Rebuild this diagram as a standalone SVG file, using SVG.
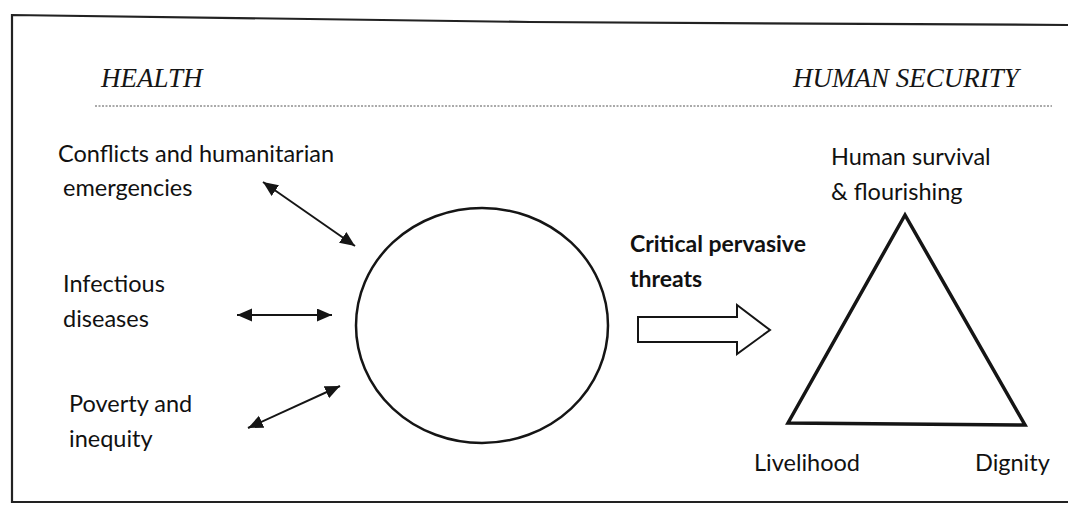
<svg xmlns="http://www.w3.org/2000/svg" width="1068" height="505" viewBox="0 0 1068 505">
  <style>
    .lbl { font-family: Lato, "Liberation Sans", sans-serif; font-size: 23.5px; fill: #111; }
    .bold { font-weight: bold; font-size: 23px; }
    .head { font-family: "Liberation Serif", serif; font-style: italic; font-size: 27px; fill: #151515; }
    .ln { stroke: #151515; stroke-width: 2; fill: none; }
  </style>
  <defs>
    <marker id="ah" markerUnits="userSpaceOnUse" markerWidth="16" markerHeight="14" refX="15" refY="6.5" orient="auto-start-reverse">
      <path d="M0,0 L15,6.5 L0,13 z" fill="#151515"/>
    </marker>
  </defs>

  <g id="frame">
    <polyline points="1068,25 530,22 12,15 12,502 1068,502" fill="none" stroke="#222" stroke-width="2.2"/>
    <line x1="95" y1="106" x2="1052" y2="106" stroke="#555" stroke-width="1" stroke-dasharray="2 1.5"/>
  </g>

  <g id="title-health"><text class="head" x="101" y="87">HEALTH</text></g>
  <g id="title-security"><text class="head" x="793" y="87">HUMAN SECURITY</text></g>

  <g id="node-conflicts">
    <text class="lbl" x="58" y="162">Conflicts and humanitarian</text>
    <text class="lbl" x="63" y="196">emergencies</text>
  </g>
  <g id="node-infectious">
    <text class="lbl" x="63" y="292">Infectious</text>
    <text class="lbl" x="63" y="327">diseases</text>
  </g>
  <g id="node-poverty">
    <text class="lbl" x="69" y="412">Poverty and</text>
    <text class="lbl" x="69" y="447">inequity</text>
  </g>

  <g id="node-health-circle">
    <ellipse cx="482" cy="325.5" rx="126" ry="117.5" fill="none" stroke="#151515" stroke-width="2.5"/>
  </g>

  <g id="node-threats">
    <text class="lbl bold" x="630" y="252">Critical pervasive</text>
    <text class="lbl bold" x="630" y="287">threats</text>
  </g>

  <g id="node-triangle">
    <polygon points="905,215 788,423 1025,425" fill="none" stroke="#151515" stroke-width="3.5" stroke-linejoin="miter"/>
    <text class="lbl" x="831" y="165">Human survival</text>
    <text class="lbl" x="831" y="200">&amp; flourishing</text>
    <text class="lbl" x="754" y="471">Livelihood</text>
    <text class="lbl" x="975" y="471">Dignity</text>
  </g>

  <g id="connectors">
    <line class="ln" x1="263" y1="182" x2="355" y2="246" marker-start="url(#ah)" marker-end="url(#ah)"/>
    <line class="ln" x1="237" y1="315" x2="332" y2="315" marker-start="url(#ah)" marker-end="url(#ah)"/>
    <line class="ln" x1="248" y1="428" x2="340" y2="386" marker-start="url(#ah)" marker-end="url(#ah)"/>
    <polygon points="638,317 737,317 737,305 770,330 737,354 737,342 638,342" fill="#fff" stroke="#151515" stroke-width="2"/>
  </g>
</svg>
